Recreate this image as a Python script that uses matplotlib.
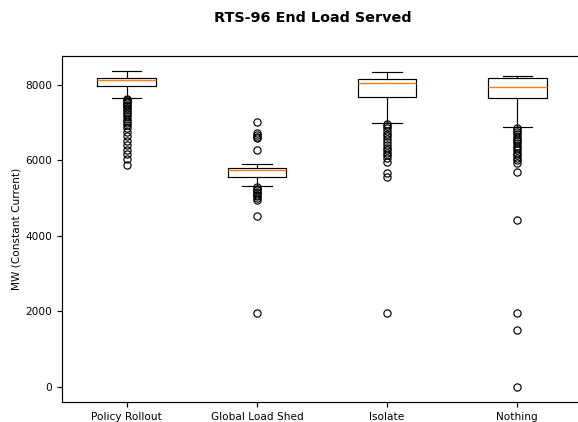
import matplotlib
matplotlib.use('Agg')
import matplotlib.pyplot as plt

labels = ['Policy Rollout', 'Global Load Shed', 'Isolate', 'Nothing']

# box statistics (MW)
whislo = [7636, 5324, 6975, 6869]
q1 = [7961, 5562, 7663, 7636]
med = [8120, 5732, 8033, 7927]
q3 = [8181, 5785, 8147, 8160]
whishi = [8358, 5890, 8340, 8215]

fliers_policy = [7610, 7580, 7550, 7510, 7470, 7420, 7380, 7330, 7280, 7220,
                 7160, 7100, 7040, 6980, 6920, 6843, 6753, 6639, 6507, 6401,
                 6269, 6155, 6031, 5871]
fliers_shed = [7017, 6710, 6665, 6620, 6578, 6269,
               5280, 5240, 5200, 5160, 5120, 5080, 5040, 5000, 4950, 4523, 1957]
fliers_isolate = [6950, 6900, 6850, 6780, 6700, 6640, 6560, 6480, 6400, 6330,
                  6270, 6200, 6130, 6050, 5960, 5650, 5550, 1957]
fliers_nothing = [6850, 6800, 6740, 6680, 6620, 6560, 6500, 6440, 6380, 6320,
                  6260, 6200, 6130, 6060, 6000, 5930, 5695, 4417, 1949, 1508, 0]
fliers = [fliers_policy, fliers_shed, fliers_isolate, fliers_nothing]

stats = []
for i, lab in enumerate(labels):
    stats.append(dict(label=lab, whislo=whislo[i], q1=q1[i], med=med[i],
                      q3=q3[i], whishi=whishi[i], fliers=fliers[i]))

fig = plt.figure(figsize=(5.78, 4.22), dpi=100)
ax = fig.add_axes([61.6 / 578, 20 / 422, (582.4 - 61.6) / 578, (402 - 56) / 422])

lw = 0.85
ax.bxp(stats, widths=0.45,
       boxprops=dict(color='black', linewidth=lw),
       whiskerprops=dict(color='black', linewidth=lw),
       capprops=dict(color='black', linewidth=lw),
       medianprops=dict(color='#ff7f0e', linewidth=1.0),
       flierprops=dict(marker='o', markerfacecolor='none',
                       markeredgecolor='black', markersize=5.2,
                       markeredgewidth=lw))

ax.set_xlim(0.5, 4.5)
ax.set_ylim(-400, 8755)
ax.set_yticks([0, 2000, 4000, 6000, 8000])
ax.tick_params(labelsize=7.6, width=lw, length=3.5)
for s in ax.spines.values():
    s.set_linewidth(lw)
ax.set_ylabel('MW (Constant Current)', fontsize=7.6, labelpad=2.5)

fig.suptitle('RTS-96 End Load Served', x=312.5 / 578, y=1 - 17.5 / 422,
             va='center', fontsize=10.4, fontweight='bold')

fig.savefig('out.png', dpi=100)
